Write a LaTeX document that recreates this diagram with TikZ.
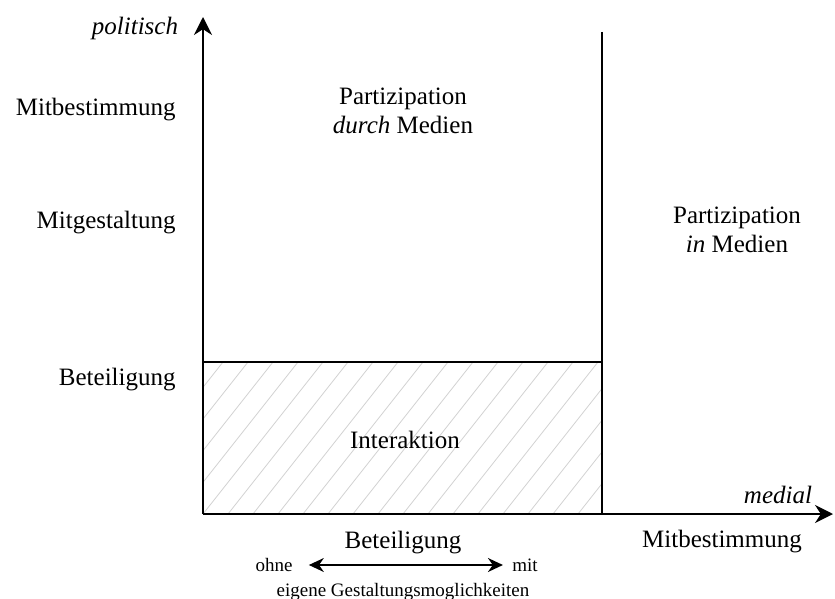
\documentclass[tikz,border=0pt]{standalone}
\usepackage{fontspec}
\setmainfont{Liberation Serif}
\usepackage{tikz}
\usetikzlibrary{arrows.meta, positioning, calc}

\begin{document}
\begin{tikzpicture}[x=0.5pt, y=-0.5pt,
    axis/.style={line width=1pt, -{Stealth[length=9pt, width=9pt]}},
    frame/.style={line width=1pt},
    lbl/.style={font=\fontsize{12.5}{14.5}\selectfont, inner sep=0pt, align=center},
    small/.style={font=\fontsize{9.5}{11}\selectfont, inner sep=0pt},
    hatch/.style={gray!35, line width=0.4pt}]
    \useasboundingbox (0,0) rectangle (835,599);

    % corner points
    \coordinate (O) at (203,514);
    \coordinate (Ytop) at (203,17);
    \coordinate (Xend) at (833,514);
    \coordinate (Rtop) at (602,32);
    \coordinate (Rbot) at (602,514);
    \coordinate (Lmid) at (203,362);
    \coordinate (Rmid) at (602,362);

    % hatched field
    \begin{scope}
        \clip (Lmid) rectangle (Rbot);
        \foreach \i in {-6,...,17}
            \draw[hatch] (203+\i*25,514) -- ++(120,-152);
    \end{scope}

    % lines and axes
    \draw[frame] (Lmid) -- (Rmid);
    \draw[frame] (Rtop) -- (Rbot);
    \draw[axis] (O) -- (Ytop);
    \draw[axis] (O) -- (Xend);

    % axis names
    \node[lbl, font=\fontsize{12.5}{14.5}\selectfont\itshape] (politisch) at (135,28) {politisch};
    \node[lbl, font=\fontsize{12.5}{14.5}\selectfont\itshape] (medial) at (778,495) {medial};

    % vertical scale
    \node[lbl, anchor=east] (mbest) at (176,110) {Mitbestimmung};
    \node[lbl, anchor=east] (mgest) at (176,223) {Mitgestaltung};
    \node[lbl, anchor=east] (beteil) at (176,380) {Beteiligung};

    % fields
    \node[lbl] (durch) at (403,111) {Partizipation\\\textit{durch} Medien};
    \node[lbl] (in) at (737,230) {Partizipation\\\textit{in} Medien};
    \node[lbl] (inter) at (405,440) {Interaktion};

    % horizontal scale
    \node[lbl] (hbeteil) at (403,543) {Beteiligung};
    \node[lbl] (hmbest) at (722,542) {Mitbestimmung};
    \node[small] (ohne) at (274,565) {ohne};
    \node[small] (mit) at (525,565) {mit};
    \node[small] (eigene) at (403,592) {eigene Gestaltungsmoglichkeiten};
    \draw[line width=0.8pt, {Stealth[length=7.5pt, width=7pt]}-{Stealth[length=7.5pt, width=7pt]},
          shorten <=8pt, shorten >=4.5pt] (ohne) -- (mit);
\end{tikzpicture}
\end{document}
